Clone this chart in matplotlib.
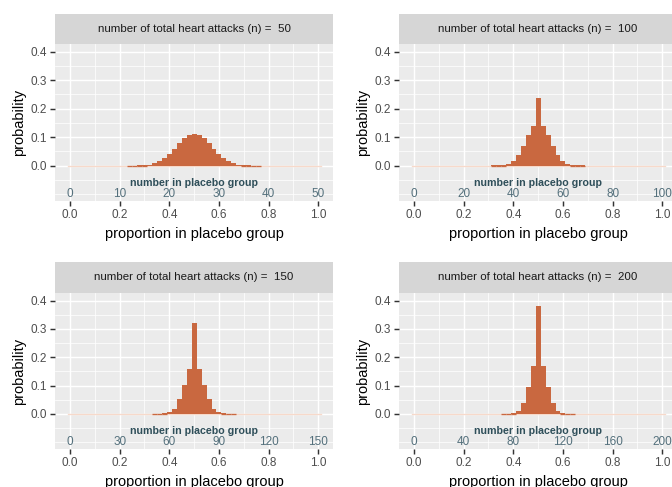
import matplotlib
matplotlib.use("Agg")
import matplotlib.pyplot as plt
import numpy as np

plt.rcParams['font.family'] = ['Liberation Sans', 'DejaVu Sans']

# total heart attacks per panel
n_totals = [50, 100, 150, 200]

# bin centres of the first non-empty bin (bin width 0.02) and the bar heights
first_bin = [0.24, 0.32, 0.34, 0.36]
probs_50 = [0.0005, 0.0005, 0.001, 0.002, 0.004, 0.009, 0.016, 0.027, 0.042, 0.060, 0.079, 0.096, 0.108,
            0.112,
            0.108, 0.096, 0.079, 0.060, 0.042, 0.027, 0.016, 0.009, 0.004, 0.002, 0.001, 0.0005, 0.0005]
probs_100 = [0.001, 0.001, 0.002, 0.007, 0.016, 0.037, 0.069, 0.108, 0.139,
             0.237,
             0.139, 0.108, 0.069, 0.037, 0.016, 0.007, 0.002, 0.001, 0.001]
probs_150 = [0.001, 0.001, 0.002, 0.007, 0.018, 0.053, 0.102, 0.158,
             0.320,
             0.158, 0.102, 0.053, 0.018, 0.007, 0.003, 0.001, 0.001]
probs_200 = [0.001, 0.001, 0.003, 0.011, 0.039, 0.095, 0.168,
             0.380,
             0.168, 0.095, 0.039, 0.011, 0.003, 0.001, 0.001]
all_probs = [probs_50, probs_100, probs_150, probs_200]

prop_ticks = [0.0, 0.2, 0.4, 0.6, 0.8, 1.0]
y_ticks = [0.0, 0.1, 0.2, 0.3, 0.4]

bar_col = "#c96840"
W, H = 672, 487
fig = plt.figure(figsize=(W / 96, H / 96), dpi=96)

def px_rect(left, top, right, bottom):
    return [left / W, 1 - bottom / H, (right - left) / W, (bottom - top) / H]

# panel positions in pixels: (left, strip top, panel top, panel bottom)
spots = [(55, 14, 44, 201), (399, 14, 44, 201), (55, 262, 293, 449), (399, 262, 293, 449)]
pw = 278

for i in range(4):
    left, stop, ptop, pbot = spots[i]
    n = n_totals[i]
    probs = all_probs[i]

    # strip
    sax = fig.add_axes(px_rect(left, stop, left + pw, ptop))
    sax.set_facecolor("#d6d6d6")
    sax.set_xticks([]); sax.set_yticks([])
    for s in sax.spines.values():
        s.set_visible(False)
    sax.text(0.5, 0.5, "number of total heart attacks (n) =  %d" % n, ha="center", va="center",
             fontsize=8.6, color="#1a1a1a", transform=sax.transAxes)

    ax = fig.add_axes(px_rect(left, ptop, left + pw, pbot))
    ax.set_facecolor("#ebebeb")
    ax.set_xlim(-0.0604, 1.0592)
    ax.set_ylim(-0.124, 0.427)
    ax.set_xticks(prop_ticks)
    ax.set_xticks([0.1, 0.3, 0.5, 0.7, 0.9], minor=True)
    ax.set_yticks(y_ticks)
    ax.set_yticks([-0.1, -0.05, 0.05, 0.15, 0.25, 0.35], minor=True)
    ax.set_xticklabels(["%.1f" % t for t in prop_ticks])
    ax.set_yticklabels(["%.1f" % t for t in y_ticks])
    ax.grid(which="major", color="white", linewidth=1.1)
    ax.grid(which="minor", color="white", linewidth=0.55)
    ax.set_axisbelow(True)
    ax.tick_params(which="major", length=3.7, width=1.1, color="#333333", labelsize=8.8,
                   labelcolor="#4d4d4d", pad=2.5)
    ax.tick_params(which="minor", length=0)
    for s in ax.spines.values():
        s.set_visible(False)

    centers = first_bin[i] + 0.02 * np.arange(len(probs))
    ax.plot([-0.01, 1.01], [0, 0], color="#f7d9ca", linewidth=1.0, zorder=2)
    ax.bar(centers, probs, width=0.02, color=bar_col, edgecolor="none", linewidth=0,
           antialiased=False, zorder=3)
    # the near-empty bins still show as a thin orange line on the baseline
    tiny = [c for c, p in zip(centers, probs) if p < 0.004]
    for c in tiny:
        ax.plot([c - 0.01, c + 0.01], [0.0005, 0.0005], color=bar_col, linewidth=1.0,
                solid_capstyle="butt", zorder=3)

    # secondary axis: counts in placebo group
    ax.text(0.5, -0.061, "number in placebo group", ha="center", va="center", fontsize=8,
            fontweight="bold", color="#2f4f5a")
    for t in prop_ticks:
        ax.text(t, -0.099, "%d" % round(t * n), ha="center", va="center", fontsize=8.8,
                color="#54707c")

    ax.set_xlabel("proportion in placebo group", fontsize=11, labelpad=4)
    ax.set_ylabel("probability", fontsize=11, labelpad=3)

fig.savefig("out.png", dpi=96)
